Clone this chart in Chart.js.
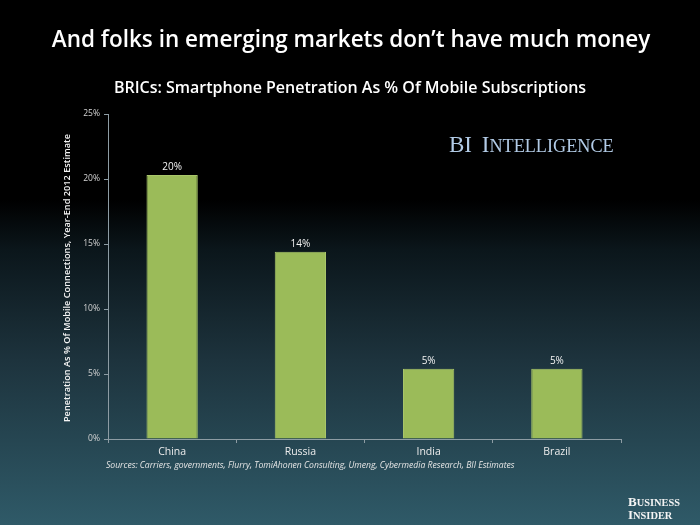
<!DOCTYPE html>
<html>
<head>
<meta charset="utf-8">
<script src="https://cdn.jsdelivr.net/npm/chart.js@4.4.0/dist/chart.umd.min.js"></script>
<style>
  html, body { margin: 0; padding: 0; }
  body {
    width: 700px; height: 525px; overflow: hidden;
    background: linear-gradient(to bottom, #000 0px, #000 200px, #0b161b 250px, #1d333d 360px, #2f5a68 525px);
  }
  #wrap { position: relative; width: 700px; height: 525px; }
</style>
</head>
<body>
<div id="wrap"><canvas id="bricChart" width="700" height="525"></canvas></div>
<script>
'use strict';

/* --- Data --- */
const countries = ['China', 'Russia', 'India', 'Brazil'];
const penetration = [20.3, 14.4, 5.4, 5.4];
const valueLabels = ['20%', '14%', '5%', '5%'];

const FONT = "'Open Sans', 'Noto Sans', sans-serif";
const SERIF = "'Liberation Serif', 'DejaVu Serif', serif";

/* --- Titles, value labels and logos --- */
const decorPlugin = {
  id: 'decor',
  afterDraw(chart) {
    const ctx = chart.ctx;
    const meta = chart.getDatasetMeta(0);
    ctx.save();

    // headline + chart title (centred on the full slide)
    ctx.fillStyle = '#ffffff';
    ctx.textAlign = 'center';
    ctx.textBaseline = 'middle';
    ctx.font = `600 22.5px ${FONT}`;
    ctx.fillText('And folks in emerging markets don\u2019t have much money', 351, 41);
    ctx.font = `600 16px ${FONT}`;
    ctx.fillText('BRICs: Smartphone Penetration As % Of Mobile Subscriptions', 350, 88);

    // y axis title
    ctx.save();
    ctx.translate(67, 278);
    ctx.rotate(-Math.PI / 2);
    ctx.fillStyle = '#f4f4f4';
    ctx.font = `600 9.2px ${FONT}`;
    ctx.fillText('Penetration As % Of Mobile Connections, Year-End 2012 Estimate', 0, 0);
    ctx.restore();

    // value labels
    ctx.fillStyle = '#f2f2f2';
    ctx.font = `10px ${FONT}`;
    ctx.textBaseline = 'bottom';
    meta.data.forEach((bar, i) => {
      ctx.fillText(valueLabels[i], bar.x, bar.y - 3);
    });

    // sources
    ctx.textAlign = 'left';
    ctx.textBaseline = 'middle';
    ctx.fillStyle = '#e6e6e6';
    ctx.font = `italic 8.6px ${FONT}`;
    ctx.fillText('Sources: Carriers, governments, Flurry, TomiAhonen Consulting, Umeng, Cybermedia Research, BII Estimates', 106, 466);

    // BI Intelligence mark
    ctx.textBaseline = 'alphabetic';
    ctx.fillStyle = '#b2cbe6';
    ctx.font = `23px ${SERIF}`;
    ctx.fillText('BI', 449, 152);
    let x = 449 + ctx.measureText('BI ').width + 4;
    ctx.fillText('I', x, 152);
    x += ctx.measureText('I').width;
    ctx.font = `18.2px ${SERIF}`;
    ctx.fillText('NTELLIGENCE', x, 152);

    // Business Insider logo
    ctx.fillStyle = '#f4f4f4';
    const smallCaps = (first, rest, y) => {
      ctx.font = `bold 13px ${SERIF}`;
      ctx.fillText(first, 628, y);
      const w = ctx.measureText(first).width;
      ctx.font = `bold 10.4px ${SERIF}`;
      ctx.fillText(rest, 628 + w, y);
    };
    smallCaps('B', 'USINESS', 506);
    smallCaps('I', 'NSIDER', 519);
    ctx.restore();
  }
};

/* --- Chart --- */
new Chart(document.getElementById('bricChart'), {
  type: 'bar',
  data: {
    labels: countries,
    datasets: [{
      data: penetration,
      backgroundColor: '#9bbb59',
      borderColor: '#a9c66a',
      borderWidth: 1,
      barPercentage: 0.8,
      categoryPercentage: 0.5
    }]
  },
  options: {
    responsive: false,
    animation: false,
    layout: { padding: { left: 0, right: 79, top: 114, bottom: 0 } },
    plugins: {
      legend: { display: false },
      tooltip: { enabled: false }
    },
    scales: {
      x: {
        grid: { display: true, drawOnChartArea: false, color: '#8d9ca4', tickLength: 4, offset: true },
        border: { color: '#8d9ca4' },
        ticks: { color: '#ececec', font: { family: FONT, size: 10.5 }, padding: 3 },
        afterFit(scale) { scale.height = 86; }
      },
      y: {
        min: 0, max: 25,
        grid: { display: true, drawOnChartArea: false, color: '#8d9ca4', tickLength: 4 },
        border: { color: '#8d9ca4' },
        ticks: {
          stepSize: 5,
          color: '#d4d4d4',
          font: { family: FONT, size: 8.5 },
          padding: 4,
          callback: v => v + '%'
        },
        afterFit(scale) { scale.width = 108; }
      }
    }
  },
  plugins: [decorPlugin]
});
</script>
</body>
</html>
